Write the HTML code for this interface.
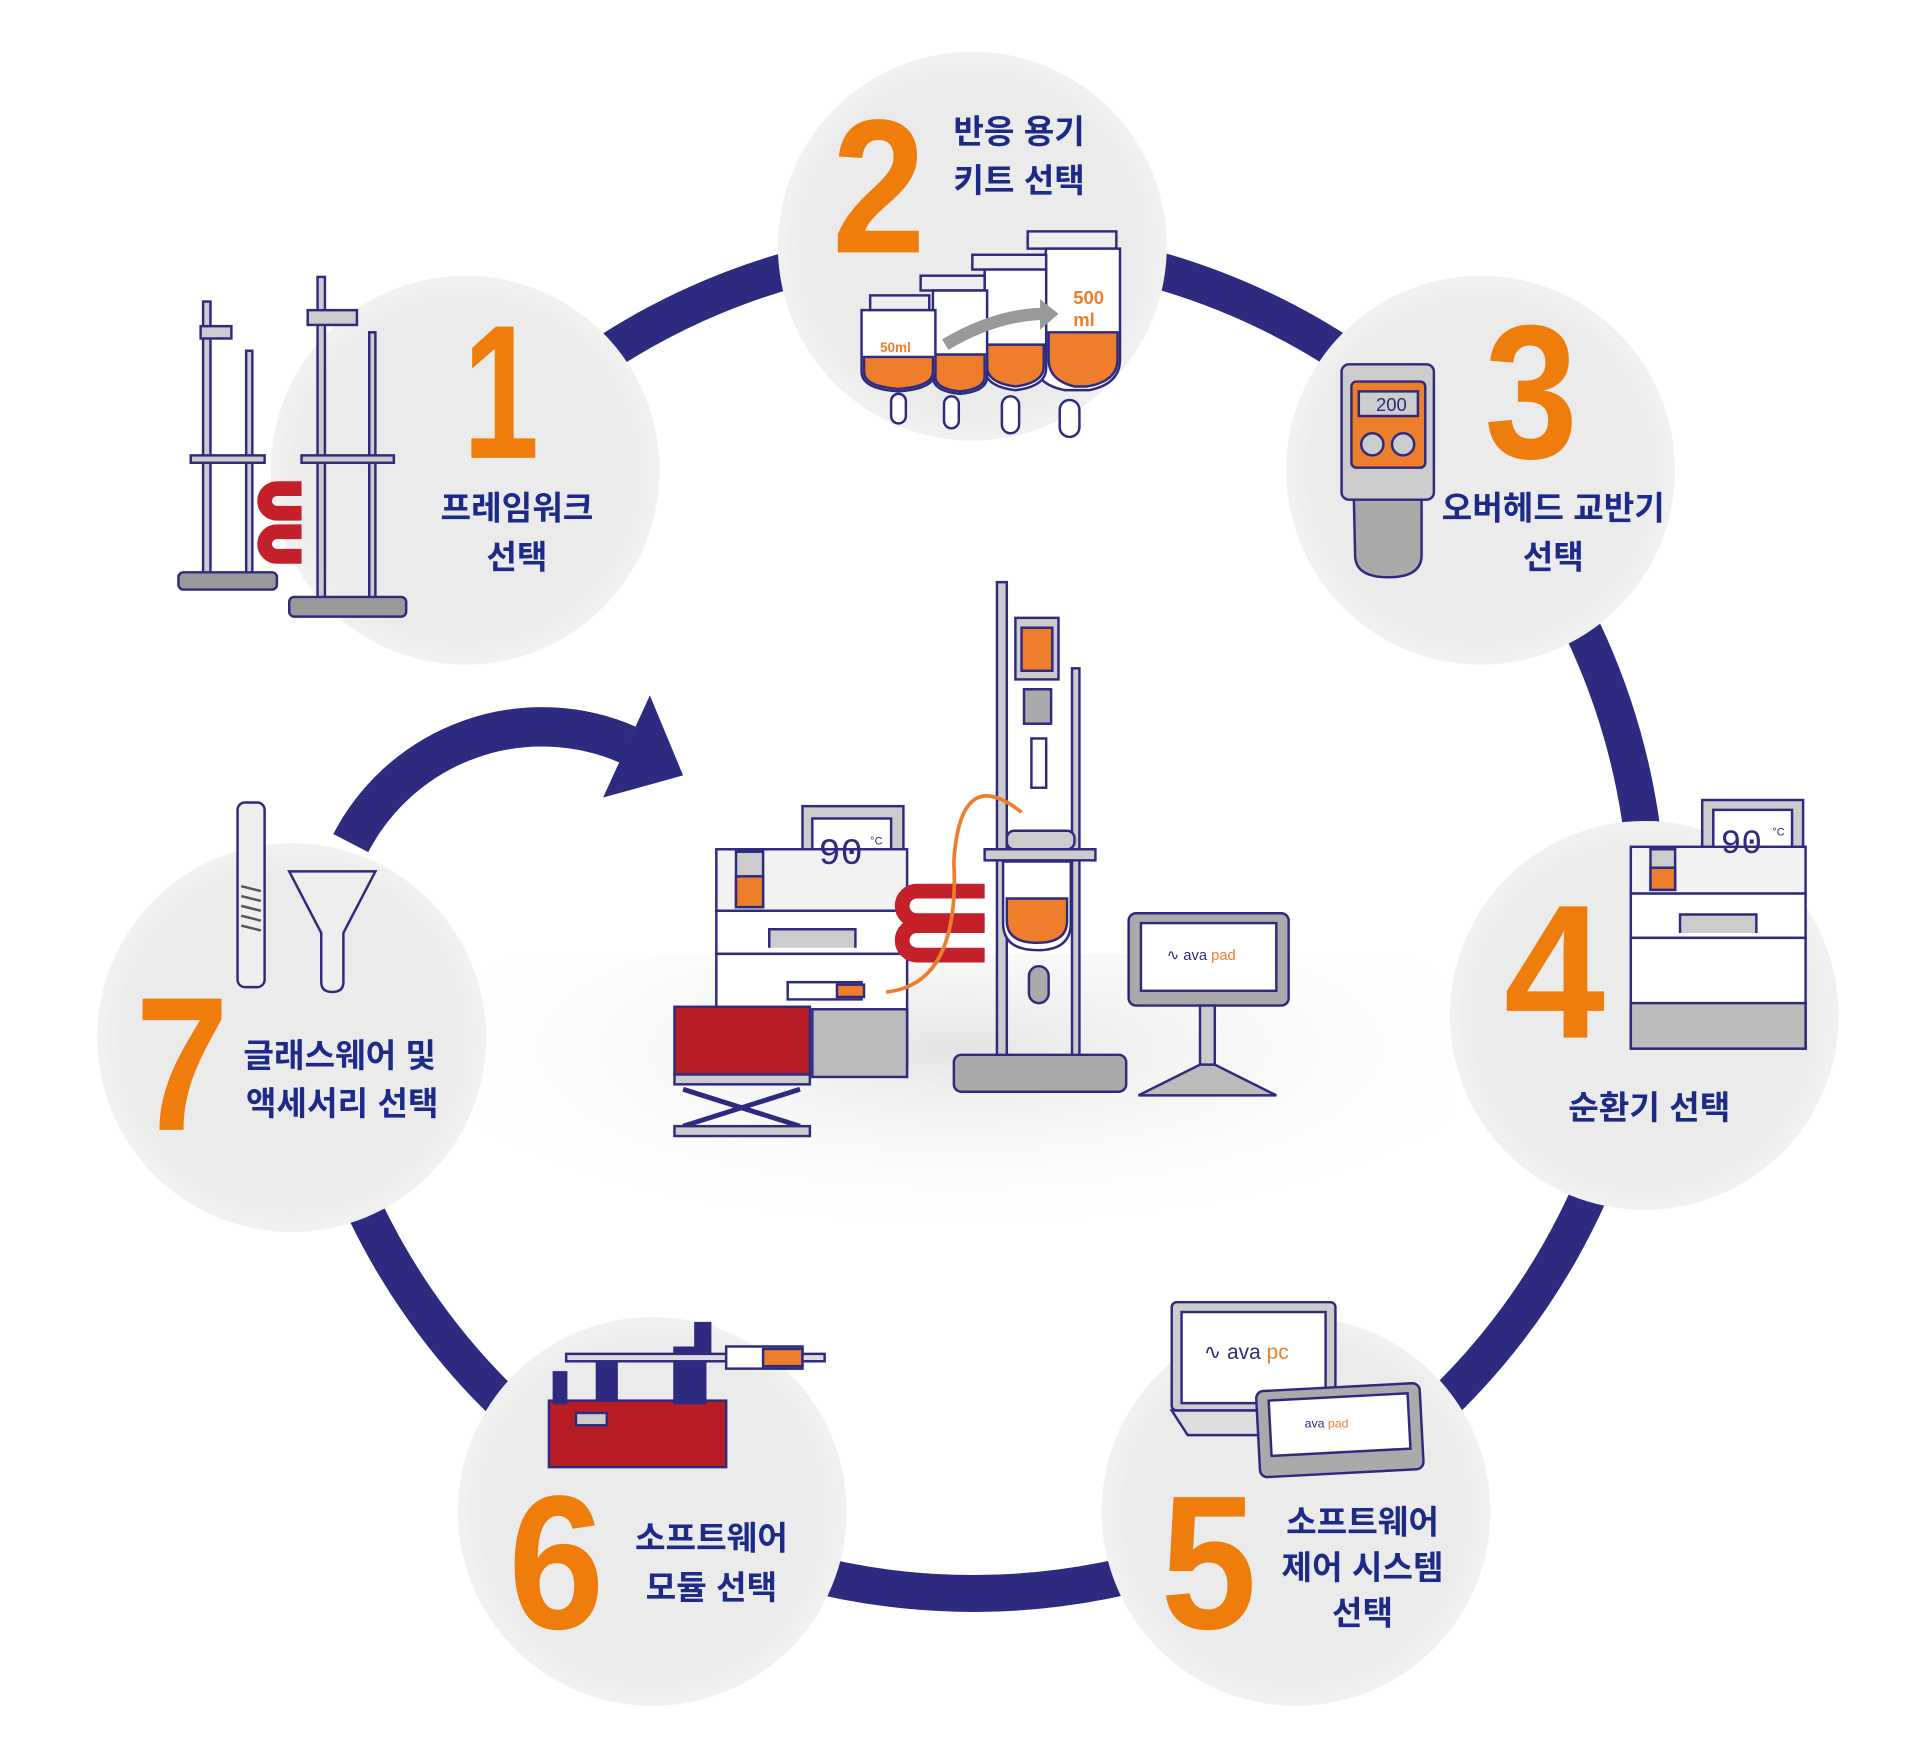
<!DOCTYPE html>
<html><head><meta charset="utf-8"><style>
html,body{margin:0;padding:0;background:#fff;}
svg{display:block;}
.n{font-family:"Liberation Sans",sans-serif;font-weight:bold;fill:#ee7d0c;}
.t{font-family:"Liberation Sans","Noto Sans CJK KR",sans-serif;font-weight:bold;fill:#1e2a88;font-size:27px;}
</style></head><body>
<svg width="1920" height="1758" viewBox="0 0 1920 1758" xmlns="http://www.w3.org/2000/svg">
<defs>
<radialGradient id="cg" cx="50%" cy="50%" r="50%">
<stop offset="0.85" stop-color="#ebebeb"/><stop offset="1" stop-color="#f1f1f1"/></radialGradient>
<radialGradient id="fl2" cx="50%" cy="30%" r="60%">
<stop offset="0" stop-color="#e4e4e4"/><stop offset="1" stop-color="#ffffff" stop-opacity="0"/></radialGradient>
</defs>
<g transform="scale(1.2308)">
<rect x="380" y="775" width="800" height="260" fill="url(#fl2)"/>
<!-- ring (open between 7 and 1) -->
<path d="M380 384 A548 548 0 1 1 251 841" fill="none" stroke="#2e2a80" stroke-width="30"/>
<g fill="url(#cg)">
<circle cx="378" cy="382" r="158"/>
<circle cx="790" cy="200" r="158"/>
<circle cx="1203" cy="382" r="158"/>
<circle cx="1336" cy="825" r="158"/>
<circle cx="1053" cy="1228" r="158"/>
<circle cx="530" cy="1228" r="158"/>
<circle cx="237" cy="843" r="158"/>
</g>
<path d="M285 685 A175 175 0 0 1 510 605" fill="none" stroke="#2e2a80" stroke-width="32"/>
<polygon points="490,648 555,630 528,565" fill="#2e2a80"/>

<g class="n" font-size="155">
<text x="376" y="372" textLength="62" lengthAdjust="spacingAndGlyphs">1</text>
<text x="676" y="205" textLength="76" lengthAdjust="spacingAndGlyphs">2</text>
<text x="1206" y="372" textLength="76" lengthAdjust="spacingAndGlyphs">3</text>
<text x="1222" y="843" textLength="82" lengthAdjust="spacingAndGlyphs">4</text>
<text x="943" y="1323" textLength="78" lengthAdjust="spacingAndGlyphs">5</text>
<text x="413" y="1323" textLength="78" lengthAdjust="spacingAndGlyphs">6</text>
<text x="110" y="918" textLength="76" lengthAdjust="spacingAndGlyphs">7</text>
</g>

<g class="t" text-anchor="middle">
<text x="420" y="422">프레임워크</text><text x="420" y="462">선택</text>
<text x="828" y="116">반응 용기</text><text x="828" y="156">키트 선택</text>
<text x="1262" y="422">오버헤드 교반기</text><text x="1262" y="462">선택</text>
<text x="1340" y="909">순환기 선택</text>
<text x="1107" y="1246">소프트웨어</text><text x="1107" y="1283">제어 시스템</text><text x="1107" y="1320">선택</text>
<text x="578" y="1259">소프트웨어</text><text x="578" y="1299">모듈 선택</text>
<text x="276" y="867">글래스웨어 및</text><text x="278" y="906">액세서리 선택</text>
</g>

<g stroke="#2e2a80" stroke-width="2" fill="#ccc">
<rect x="165" y="245" width="6" height="230"/><rect x="200" y="285" width="5" height="190"/>
<rect x="155" y="370" width="60" height="6"/><rect x="145" y="465" width="80" height="14" rx="4" fill="#999"/>
<rect x="258" y="225" width="6" height="270"/><rect x="300" y="270" width="5" height="220"/>
<rect x="245" y="370" width="75" height="6"/><rect x="235" y="485" width="95" height="16" rx="4" fill="#999"/>
<rect x="163" y="265" width="25" height="10"/><rect x="250" y="252" width="40" height="12"/>
</g>
<g fill="none" stroke="#c4202a" stroke-width="12">
<path d="M245 397 H225 a10 10 0 0 0 0 20 H245"/><path d="M245 432 H225 a10 10 0 0 0 0 20 H245"/>
</g>

<g stroke="#2e2a80" stroke-width="2">
<rect x="835" y="188" width="72" height="14" fill="#eee"/>
<path d="M850 202 h60 v90 q0 20 -25 25 h-20 q-25 -5 -25 -25z" fill="#fff"/>
<path d="M852 270 h56 v22 q0 18 -25 22 h-10 q-21 -5 -21 -22z" fill="#ee7d2c"/>
<rect x="861" y="325" width="16" height="30" rx="8" fill="#fff"/>
<rect x="790" y="207" width="60" height="12" fill="#eee"/>
<path d="M800 219 h50 v80 q0 15 -25 18 q-25 -3 -25 -18z" fill="#fff"/>
<path d="M802 280 h46 v18 q0 13 -23 16 q-23 -3 -23 -16z" fill="#ee7d2c"/>
<rect x="814" y="322" width="14" height="30" rx="7" fill="#fff"/>
<rect x="748" y="224" width="52" height="12" fill="#eee"/>
<path d="M758 236 h44 v70 q0 12 -22 14 q-22 -2 -22 -14z" fill="#fff"/>
<path d="M760 288 h40 v18 q0 10 -20 12 q-20 -2 -20 -12z" fill="#ee7d2c"/>
<rect x="767" y="322" width="12" height="26" rx="6" fill="#fff"/>
<rect x="707" y="240" width="48" height="12" fill="#eee"/>
<path d="M700 252 h60 v50 q0 14 -30 16 q-30 -2 -30 -16z" fill="#fff"/>
<path d="M702 290 h56 v12 q0 12 -28 14 q-28 -2 -28 -14z" fill="#ee7d2c"/>
<rect x="724" y="320" width="12" height="24" rx="6" fill="#fff"/>
</g>
<path d="M768 280 Q810 255 850 255" stroke="#999" stroke-width="10" fill="none"/>
<polygon points="845,243 860,255 845,268" fill="#999"/>
<text x="715" y="286" font-family="Liberation Sans" font-weight="bold" font-size="11" fill="#ee7d2c">50ml</text>
<text x="872" y="247" font-family="Liberation Sans" font-weight="bold" font-size="15" fill="#ee7d2c">500</text>
<text x="872" y="265" font-family="Liberation Sans" font-weight="bold" font-size="15" fill="#ee7d2c">ml</text>

<g stroke="#2e2a80" stroke-width="2">
<rect x="1090" y="296" width="75" height="110" rx="6" fill="#ccc"/>
<rect x="1098" y="310" width="60" height="70" rx="4" fill="#ee7d2c"/>
<rect x="1104" y="318" width="48" height="20" fill="#ccc"/>
<circle cx="1115" cy="361" r="9" fill="#ccc"/><circle cx="1140" cy="361" r="9" fill="#ccc"/>
<path d="M1100 406 h55 v45 q0 18 -27 18 q-27 0 -27 -18z" fill="#aaa"/>
</g>
<text x="1118" y="334" font-family="Liberation Sans" font-size="15" fill="#2e2a80">200</text>

<g stroke="#2e2a80" stroke-width="2">
<rect x="1383" y="650" width="82" height="75" fill="#ccc"/><rect x="1392" y="658" width="64" height="55" fill="#fff"/>
<rect x="1325" y="688" width="142" height="38" fill="#f2f2f2"/>
<rect x="1341" y="690" width="20" height="33" fill="#ccc"/><rect x="1341" y="705" width="20" height="18" fill="#ee7d2c"/>
<rect x="1325" y="726" width="142" height="36" fill="#fff"/>
<rect x="1325" y="762" width="142" height="90" fill="#fff"/>
<rect x="1325" y="815" width="142" height="37" fill="#bbb"/>
<path d="M1365 758 v-15 h62 v15" fill="#ccc"/>
</g>
<text x="1398" y="693" font-family="Liberation Mono" font-size="28" fill="#2e2a80">90</text>
<text x="1440" y="679" font-family="Liberation Sans" font-size="9" fill="#2e2a80">°C</text>

<g stroke="#2e2a80" stroke-width="2">
<rect x="952" y="1058" width="133" height="88" rx="4" fill="#ccc"/>
<rect x="960" y="1066" width="117" height="74" fill="#fff"/>
<path d="M952 1146 h133 l20 20 h-140z" fill="#ddd"/>
<rect x="1022" y="1127" width="133" height="70" rx="6" fill="#aaa" transform="rotate(-3 1088 1160)"/>
<rect x="1032" y="1135" width="113" height="45" fill="#fff" transform="rotate(-3 1088 1160)"/>
</g>
<text x="978" y="1104" font-family="Liberation Sans" font-size="17" fill="#2e2a80">∿ ava <tspan fill="#ee7d2c">pc</tspan></text>
<text x="1060" y="1160" font-family="Liberation Sans" font-size="10" fill="#2e2a80">ava <tspan fill="#ee7d2c">pad</tspan></text>

<g stroke="#2e2a80" stroke-width="2">
<rect x="446" y="1138" width="144" height="54" fill="#b81c24"/>
<rect x="450" y="1115" width="10" height="25" fill="#2e2a80"/><rect x="485" y="1108" width="16" height="30" fill="#2e2a80"/>
<rect x="548" y="1095" width="25" height="45" fill="#2e2a80"/><rect x="565" y="1075" width="12" height="25" fill="#2e2a80"/>
<rect x="460" y="1100" width="130" height="6" fill="#ddd"/>
<rect x="590" y="1094" width="62" height="18" fill="#fff"/>
<rect x="620" y="1096" width="32" height="14" fill="#ee7d2c"/>
<rect x="652" y="1100" width="18" height="6" fill="#ddd"/>
<rect x="468" y="1148" width="25" height="10" fill="#ccc"/>
</g>

<g stroke="#2e2a80" stroke-width="2" fill="#eee">
<rect x="193" y="652" width="22" height="150" rx="6"/>
<path d="M235 708 h70 l-26 50 v40 q0 8 -9 8 q-9 0 -9 -8 v-40z"/>
</g>
<g stroke="#555" stroke-width="2">
<line x1="196" y1="720" x2="212" y2="724"/><line x1="196" y1="728" x2="212" y2="732"/><line x1="196" y1="736" x2="212" y2="740"/><line x1="196" y1="744" x2="212" y2="748"/><line x1="196" y1="752" x2="212" y2="756"/>
</g>

<g stroke="#2e2a80" stroke-width="2">
<rect x="652" y="655" width="82" height="80" fill="#ccc"/><rect x="660" y="665" width="64" height="58" fill="#fff"/>
<rect x="582" y="690" width="155" height="50" fill="#f2f2f2"/>
<rect x="598" y="692" width="22" height="45" fill="#ccc"/><rect x="598" y="712" width="22" height="25" fill="#ee7d2c"/>
<rect x="582" y="740" width="155" height="35" fill="#fff"/>
<rect x="582" y="775" width="155" height="90" fill="#fff"/>
<rect x="660" y="820" width="77" height="55" fill="#bbb"/>
<path d="M625 770 v-15 h70 v15" fill="#ccc"/>
<rect x="810" y="473" width="8" height="400" fill="#ccc"/>
<rect x="871" y="543" width="6" height="320" fill="#ccc"/>
<rect x="800" y="690" width="90" height="9" fill="#ccc"/>
<rect x="775" y="857" width="140" height="30" rx="6" fill="#aaa"/>
<rect x="825" y="502" width="35" height="50" fill="#ccc"/><rect x="830" y="510" width="25" height="35" fill="#ee7d2c"/>
<rect x="832" y="560" width="22" height="28" fill="#aaa"/>
<rect x="838" y="600" width="12" height="40" fill="#fff"/>
<rect x="818" y="675" width="55" height="15" rx="6" fill="#ccc"/>
<path d="M815 700 h55 v50 q0 22 -27 22 q-28 0 -28 -22z" fill="#fff"/>
<path d="M818 730 h49 v18 q0 18 -24 18 q-25 0 -25 -18z" fill="#ee7d2c"/>
<rect x="836" y="785" width="16" height="30" rx="8" fill="#aaa"/>
<rect x="548" y="818" width="110" height="55" fill="#b81c24"/>
<rect x="548" y="873" width="110" height="8" fill="#ccc"/>
<path d="M555 885 L650 915 M650 885 L555 915" stroke-width="4"/>
<rect x="548" y="915" width="110" height="8" fill="#ccc"/>
<rect x="640" y="798" width="60" height="14" fill="#fff"/><rect x="680" y="800" width="22" height="10" fill="#ee7d2c"/>
<rect x="917" y="742" width="130" height="75" rx="6" fill="#aaa"/>
<rect x="927" y="750" width="110" height="55" fill="#fff"/>
<rect x="975" y="817" width="12" height="55" fill="#ccc"/>
<path d="M925 890 L975 865 h12 L1037 890z" fill="#bbb"/>
</g>
<g fill="none" stroke="#c4202a" stroke-width="12">
<path d="M800 724 H745 a12 12 0 0 0 0 24 H800"/><path d="M800 752 H745 a12 12 0 0 0 0 24 H800"/>
</g>
<path d="M720 806 Q780 800 775 700 Q780 620 830 660" fill="none" stroke="#ee7d2c" stroke-width="3"/>
<text x="665" y="702" font-family="Liberation Mono" font-size="30" fill="#2e2a80">90</text>
<text x="707" y="686" font-family="Liberation Sans" font-size="9" fill="#2e2a80">°C</text>
<text x="948" y="780" font-family="Liberation Sans" font-size="12" fill="#2e2a80">∿ ava <tspan fill="#ee7d2c">pad</tspan></text>
</g>
</svg>
</body></html>
